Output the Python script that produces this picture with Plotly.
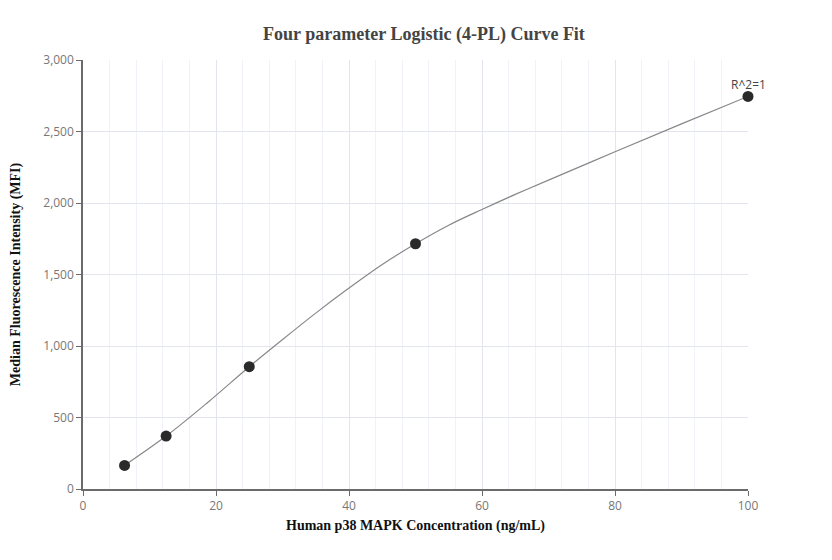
import plotly.graph_objects as go

# measured standards (concentration in ng/mL, MFI)
conc = [6.25, 12.5, 25, 50, 100]
mfi = [165, 370, 855, 1715, 2745]

# fitted 4-PL curve
curve_x = [6.25, 12.5, 18.75, 25, 30, 35, 40, 45, 50, 55, 60, 65, 70, 80, 90, 100]
curve_y = [165, 370, 605, 855, 1045, 1230, 1405, 1570, 1715, 1845, 1955, 2060, 2160, 2358, 2553, 2745]

serif = "Liberation Serif, Times New Roman, serif"

fig = go.Figure()
fig.add_trace(go.Scatter(
    x=curve_x, y=curve_y, mode="lines", line=dict(color="#888888", width=1.2, shape="spline"),
    hoverinfo="skip", showlegend=False
))
fig.add_trace(go.Scatter(
    x=conc, y=mfi, mode="markers", marker=dict(color="#2a2a2a", size=11),
    cliponaxis=False, showlegend=False
))
fig.add_annotation(x=100, y=2745, text="R^2=1", showarrow=False, yshift=12,
                   font=dict(family="Open Sans", size=12, color="#444"))

axis_common = dict(
    showline=True, linecolor="#6b6b6b", linewidth=1.5,
    ticks="outside", ticklen=5, tickcolor="#6b6b6b",
    gridcolor="#e2e5ee", zeroline=False, automargin=False,
    tickfont=dict(family="Open Sans", size=12, color="#777"),
)
fig.update_xaxes(
    range=[0, 100], dtick=20, minor=dict(dtick=4, showgrid=True, gridcolor="#f0f2f8"),
    title=dict(text="<b>Human p38 MAPK Concentration (ng/mL)</b>", standoff=7,
               font=dict(family=serif, size=14, color="#111")),
    **axis_common
)
fig.update_yaxes(
    range=[0, 3000], dtick=500, separatethousands=True, tickformat=",",
    title=dict(text="<b>Median Fluorescence Intensity (MFI)</b>", standoff=27,
               font=dict(family=serif, size=14, color="#111")),
    **axis_common
)
fig.update_layout(
    title=dict(text="<b>Four parameter Logistic (4-PL) Curve Fit</b>", x=0.5, y=0.955,
               xanchor="center", yanchor="middle",
               font=dict(family=serif, size=18, color="#444")),
    width=832, height=560,
    margin=dict(l=75, r=92, t=52, b=79),
    plot_bgcolor="white", paper_bgcolor="white",
)
fig.write_html("out.html")
